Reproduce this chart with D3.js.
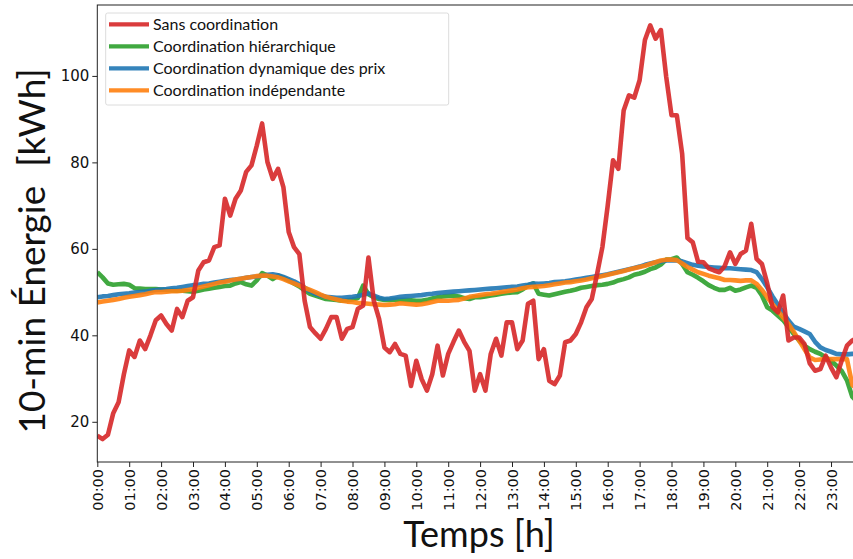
<!DOCTYPE html>
<html><head><meta charset="utf-8">
<script src="https://cdn.jsdelivr.net/npm/d3@7"></script>
<style>html,body{margin:0;padding:0;background:#fff;} svg{display:block;}</style>
</head><body><svg id="c" width="853" height="559"></svg>
<script>
// ---- data (10-minute steps, 00:00 .. 23:50) ----
const stepMinutes = 10;
const hourTicks = ["00:00","01:00","02:00","03:00","04:00","05:00","06:00","07:00","08:00","09:00","10:00","11:00",
                   "12:00","13:00","14:00","15:00","16:00","17:00","18:00","19:00","20:00","21:00","22:00","23:00"];
const yTicks = [20, 40, 60, 80, 100];
const seriesNames = ["Sans coordination","Coordination hiérarchique","Coordination dynamique des prix","Coordination indépendante"];
const seriesColors = ["#d62728","#2ca02c","#1f77b4","#ff7f0e"];

const sansCoordination = [16.8,16.0,17.0,22.0,24.5,31.0,36.5,35.0,38.8,36.8,
 40.0,43.5,44.6,42.6,41.1,46.1,44.2,48.0,48.8,55.0,
 56.9,57.3,60.4,60.8,71.6,67.7,71.6,73.5,77.8,79.3,
 83.9,89.0,80.1,76.2,78.5,74.3,63.9,60.4,58.8,48.0,
 41.9,40.5,39.2,41.5,44.2,44.2,39.2,41.5,41.9,46.1,
 46.9,58.0,48.0,43.8,37.2,36.1,38.0,35.7,35.3,28.3,
 34.1,29.9,27.2,31.0,37.6,30.7,35.7,38.5,41.1,38.5,
 36.4,27.2,31.0,27.2,35.7,39.2,35.3,43.0,43.0,36.8,
 38.8,47.3,48.0,34.5,36.8,29.5,28.7,30.7,38.4,38.8,
 40.3,43.0,46.5,48.4,54.2,60.4,70.0,80.5,78.5,92.0,
 95.5,95.0,99.0,108.3,111.7,108.6,110.6,99.8,90.9,90.9,
 82.0,62.5,61.5,57.0,56.9,55.5,55.0,54.6,56.0,59.2,
 56.5,58.8,59.6,65.8,57.7,56.5,52.0,46.5,45.3,49.2,
 38.8,39.5,39.5,38.0,33.5,31.8,32.2,35.3,32.6,30.3,
 34.1,37.6,38.8,39.5];

const hierarchique = [54.6,53.4,52.0,51.7,51.8,51.9,51.7,50.9,50.8,50.7,
 50.7,50.7,50.6,50.5,50.4,50.3,50.3,50.2,50.1,50.3,
 50.6,50.8,51.0,51.2,51.4,51.5,52.0,52.3,51.8,51.5,
 52.7,54.4,53.8,53.0,53.8,53.3,52.7,52.0,51.3,50.4,
 49.6,49.2,48.8,48.4,48.3,48.2,48.0,48.1,48.3,48.6,
 51.5,49.5,48.8,48.4,48.2,48.2,48.3,48.2,48.2,48.1,
 48.0,48.0,48.2,48.5,48.8,49.0,49.1,49.2,49.0,48.6,
 48.4,48.8,48.8,49.0,49.2,49.4,49.6,49.8,49.9,50.0,
 50.6,51.5,52.0,49.6,49.4,49.2,49.5,49.8,50.1,50.3,
 50.6,51.0,51.2,51.4,51.6,51.7,51.9,52.2,52.7,53.0,
 53.4,54.0,54.3,54.7,55.3,55.7,56.4,57.5,57.6,58.0,
 56.5,54.6,54.0,53.3,52.5,51.6,51.0,50.5,50.5,51.0,
 50.3,50.6,51.1,51.5,51.0,49.2,46.5,45.7,44.6,43.5,
 41.9,40.3,38.8,37.6,36.8,36.2,35.7,34.9,34.1,33.0,
 31.8,29.6,25.8,24.5];

const dynamiquePrix = [48.8,49.0,49.1,49.3,49.5,49.6,49.7,49.9,50.0,50.1,
 50.3,50.5,50.6,50.7,50.9,51.0,51.2,51.4,51.6,51.7,
 51.9,52.0,52.2,52.4,52.6,52.8,52.9,53.1,53.3,53.5,
 53.6,53.8,54.0,54.1,53.9,53.5,53.0,52.5,51.8,51.0,
 50.2,49.6,49.2,48.9,48.8,48.7,48.7,48.8,48.9,49.1,
 49.4,49.7,49.2,48.7,48.4,48.5,48.7,48.9,49.0,49.1,
 49.2,49.3,49.5,49.6,49.8,49.9,50.0,50.1,50.2,50.3,
 50.4,50.5,50.6,50.7,50.8,50.9,51.0,51.1,51.2,51.3,
 51.5,51.7,52.0,51.9,52.0,52.1,52.3,52.4,52.5,52.7,
 52.9,53.1,53.3,53.5,53.7,53.9,54.1,54.4,54.7,55.0,
 55.3,55.6,55.9,56.3,56.6,56.9,57.1,57.3,57.3,57.3,
 57.1,56.7,56.3,56.1,55.9,55.8,55.7,55.6,55.5,55.5,
 55.4,55.3,55.2,55.1,54.6,53.0,51.1,49.0,47.1,45.2,
 43.4,42.0,41.5,40.9,40.3,38.5,37.2,36.6,36.2,35.7,
 35.6,35.6,35.7,35.7];

const independante = [47.6,47.8,48.0,48.2,48.4,48.7,48.9,49.1,49.3,49.5,
 49.8,50.0,50.0,50.1,50.2,50.2,50.3,50.5,50.7,51.0,
 51.3,51.6,51.9,52.2,52.4,52.7,52.9,53.1,53.3,53.5,
 53.7,53.8,53.8,53.6,53.4,53.0,52.5,52.0,51.5,51.0,
 50.5,50.0,49.4,48.9,48.6,48.3,48.0,47.8,47.7,47.5,
 47.4,47.3,47.2,47.1,47.0,47.1,47.2,47.4,47.3,47.2,
 47.1,47.2,47.4,47.7,48.0,48.0,48.0,48.1,48.2,48.5,
 48.9,49.1,49.3,49.5,49.6,49.8,50.0,50.2,50.4,50.6,
 50.9,51.1,51.2,51.3,51.4,51.6,51.8,52.0,52.2,52.3,
 52.5,52.7,52.9,53.2,53.4,53.7,54.0,54.3,54.6,54.9,
 55.2,55.5,55.8,56.1,56.5,56.9,57.3,57.5,57.5,57.4,
 56.6,55.8,55.2,54.6,54.2,53.8,53.5,53.2,52.8,52.8,
 52.7,52.6,52.7,52.7,51.9,50.5,48.8,47.2,45.7,44.1,
 42.6,40.8,38.8,36.8,34.9,34.3,34.4,34.5,34.5,34.5,
 34.5,34.5,28.5,27.5];

const seriesValues = [sansCoordination, hierarchique, dynamiquePrix, independante];
const drawOrder = [1, 2, 3, 0];

// ---- layout ----
const L = 97.3, R = 857.6, T = 5, B = 462;
const svg = d3.select("#c");
const n = sansCoordination.length;
const x = d3.scaleLinear().domain([0, (n - 1) * stepMinutes]).range([L, R]);
const y = d3.scaleLinear().domain([10.7, 116.4]).range([B, T]);

svg.append("defs").append("clipPath").attr("id","clip")
  .append("rect").attr("x", L).attr("y", T).attr("width", R - L).attr("height", B - T);

const line = d3.line()
  .x((d, i) => x(i * stepMinutes))
  .y(d => y(d));

const g = svg.append("g").attr("clip-path","url(#clip)");
drawOrder.forEach(k => {
  g.append("path")
    .datum(seriesValues[k])
    .attr("d", line)
    .attr("fill","none")
    .attr("stroke", seriesColors[k])
    .attr("stroke-opacity", 0.9)
    .attr("stroke-width", 4.6)
    .attr("stroke-linejoin","round")
    .attr("stroke-linecap","butt");
});

// axes
const yAxis = svg.append("g").attr("transform", `translate(${L},0)`)
  .call(d3.axisLeft(y).tickValues(yTicks).tickSize(5).tickPadding(3).tickFormat(d3.format("d")));
yAxis.select(".domain").remove();
yAxis.selectAll("text").attr("font-family","DejaVu Sans").attr("font-size", 15).attr("fill","#111");
yAxis.selectAll("line").attr("stroke","#222");

const xAxis = svg.append("g").attr("transform", `translate(0,${B})`)
  .call(d3.axisBottom(x).tickValues(hourTicks.map((_, i) => i * 60)).tickSize(5).tickFormat((d, i) => hourTicks[i]));
xAxis.select(".domain").remove();
xAxis.selectAll("line").attr("stroke","#222");
xAxis.selectAll("text")
  .attr("font-family","DejaVu Sans").attr("font-size", 14.5).attr("fill","#111")
  .attr("transform","rotate(-90)")
  .attr("text-anchor","end")
  .attr("x", -7).attr("y", 0).attr("dy","0.35em");

// spines
svg.append("rect").attr("x", L).attr("y", T).attr("width", R - L).attr("height", B - T)
  .attr("fill","none").attr("stroke","#222").attr("stroke-width", 1);

// legend
const lg = svg.append("g");
lg.append("rect").attr("x", 105.7).attr("y", 13).attr("width", 343).attr("height", 92).attr("rx", 2)
  .attr("fill","#fff").attr("fill-opacity", 0.8).attr("stroke","#dcdcdc").attr("stroke-width", 1);
seriesNames.forEach((name, i) => {
  const yy = 24.3 + i * 22;
  lg.append("line").attr("x1", 109).attr("x2", 149).attr("y1", yy).attr("y2", yy)
    .attr("stroke", seriesColors[i]).attr("stroke-opacity", 0.9).attr("stroke-width", 4.2);
  lg.append("text").attr("x", 153).attr("y", yy).attr("dy","0.35em")
    .attr("font-family","Lato").attr("font-size", 16).attr("fill","#111").text(name);
});

// axis titles
svg.append("text").attr("x", 479).attr("y", 547).attr("text-anchor","middle")
  .attr("font-family","Lato").attr("font-size", 36).attr("fill","#111").text("Temps [h]");
svg.append("text").attr("transform","translate(45,251) rotate(-90)").attr("text-anchor","middle")
  .attr("font-family","Lato").attr("font-size", 37).attr("fill","#111")
  .style("white-space","pre").text("10-min Énergie  [kWh]");
</script></body></html>
